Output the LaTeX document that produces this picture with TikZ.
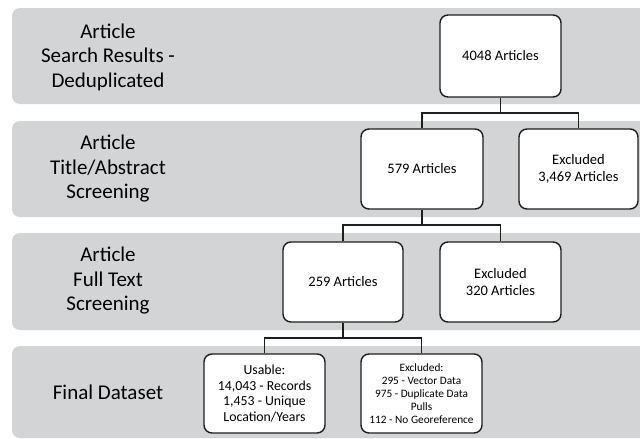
\documentclass[tikz,border=0pt]{standalone}
\usepackage{fontspec}
\setmainfont{Carlito}
\definecolor{bandgray}{RGB}{211,212,214}
\definecolor{linedark}{RGB}{30,30,30}
\begin{document}
\begin{tikzpicture}[x=1pt,y=-1pt,
  band/.style={fill=bandgray,rounded corners=8pt},
  bandlabel/.style={align=center,font=\fontsize{21}{24.5}\selectfont,text=black},
  box/.style={draw=linedark,line width=1.4pt,fill=white,rounded corners=8pt,inner sep=0pt,align=center},
  bigtxt/.style={font=\fontsize{14.5}{16.5}\selectfont},
  midtxt/.style={font=\fontsize{13.8}{15.6}\selectfont},
  smalltxt/.style={font=\fontsize{11.3}{13}\selectfont},
  conn/.style={draw=linedark,line width=1.4pt}]
\useasboundingbox (0,0) rectangle (640,439);
\begin{scope}
\clip (0,0) rectangle (640,439);
\fill[band] (12,8) rectangle (660,104);
\fill[band] (12,121) rectangle (660,217);
\fill[band] (12,233) rectangle (660,330);
\fill[band] (12,346) rectangle (660,438);
\end{scope}
\node[bandlabel] (l1) at (108,57) {Article\\Search Results -\\Deduplicated};
\node[bandlabel] (l2) at (108,169) {Article\\Title/Abstract\\Screening};
\node[bandlabel] (l3) at (108,281) {Article\\Full Text\\Screening};
\node[bandlabel] (l4) at (108,392) {Final Dataset};

\node[box,bigtxt,minimum width=121pt,minimum height=82pt] (a4048) at (500.5,56) {4048 Articles};
\node[box,bigtxt,minimum width=122pt,minimum height=80pt] (a579) at (422,169) {579 Articles};
\node[box,bigtxt,minimum width=119pt,minimum height=80pt] (x3469) at (578.5,169) {Excluded\\3,469 Articles};
\node[box,bigtxt,minimum width=120pt,minimum height=80pt] (a259) at (343,282) {259 Articles};
\node[box,bigtxt,minimum width=121pt,minimum height=80pt] (x320) at (500.5,282) {Excluded\\320 Articles};
\node[box,midtxt,minimum width=121pt,minimum height=79pt] (usable) at (264.5,393.5) {Usable:\\14,043 - Records\\1,453 - Unique\\Location/Years};
\node[box,smalltxt,minimum width=121pt,minimum height=79pt] (xfinal) at (421.5,393.5) {Excluded:\\295 - Vector Data\\975 - Duplicate Data\\Pulls\\112 - No Georeference};

\coordinate (j1) at (500.5,113);
\coordinate (j2) at (422,225);
\coordinate (j3) at (343,338);
\draw[conn] (a4048.south) -- (j1);
\draw[conn] (a579.north) |- (j1) -| (x3469.north);
\draw[conn] (a579.south) -- (j2);
\draw[conn] (a259.north) |- (j2) -| (x320.north);
\draw[conn] (a259.south) -- (j3);
\draw[conn] (usable.north) |- (j3) -| (xfinal.north);
\end{tikzpicture}
\end{document}
